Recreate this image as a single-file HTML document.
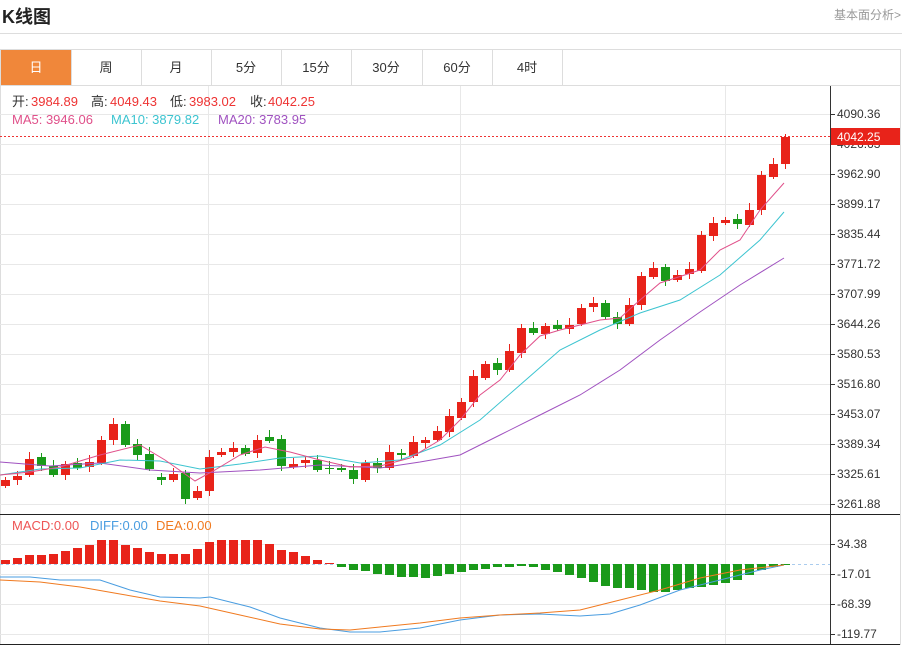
<!DOCTYPE html>
<html><head><meta charset="utf-8"><style>
body{margin:0;width:905px;height:647px;background:#fff;overflow:hidden;font-family:"Liberation Sans","Noto Sans CJK SC",sans-serif;}
.t{position:absolute;white-space:nowrap}
</style></head><body>
<div class="t" style="left:2px;top:3px;font-size:18px;font-weight:bold;color:#222">K线图</div>
<div class="t" style="left:834px;top:6px;font-size:12px;color:#999">基本面分析&gt;</div>
<div style="position:absolute;left:0;top:33px;width:902px;height:1px;background:#ddd"></div>
<svg width="905" height="647" style="position:absolute;left:0;top:0" font-family="Liberation Sans, Noto Sans CJK SC, sans-serif">
<g id="tabs" font-size="13" fill="#333" text-anchor="middle">
<rect x="0.5" y="49.5" width="900" height="595" fill="none" stroke="#ddd"/>
<line x1="0" y1="85.5" x2="900" y2="85.5" stroke="#ddd"/>
<g stroke="#ddd"><line x1="71.5" y1="50" x2="71.5" y2="85"/><line x1="141.5" y1="50" x2="141.5" y2="85"/><line x1="211.5" y1="50" x2="211.5" y2="85"/><line x1="281.5" y1="50" x2="281.5" y2="85"/><line x1="351.5" y1="50" x2="351.5" y2="85"/><line x1="422.5" y1="50" x2="422.5" y2="85"/><line x1="492.5" y1="50" x2="492.5" y2="85"/><line x1="562.5" y1="50" x2="562.5" y2="85"/></g>
<rect x="1" y="50" width="70" height="35" fill="#f0873a"/>
<text x="36" y="72" fill="#fff">日</text>
<text x="106" y="72">周</text><text x="176" y="72">月</text><text x="246" y="72">5分</text>
<text x="316" y="72">15分</text><text x="386" y="72">30分</text><text x="457" y="72">60分</text><text x="527" y="72">4时</text>
</g>
<g id="grid" stroke="#e8e8e8"></g>
<line x1="830.5" y1="86" x2="830.5" y2="645" stroke="#333"/>
<line x1="0" y1="514.5" x2="900" y2="514.5" stroke="#222"/>
<line x1="0" y1="644.5" x2="900" y2="644.5" stroke="#222"/>
<g id="labels" font-size="12" fill="#333"></g>
<line x1="0" y1="136.5" x2="830" y2="136.5" stroke="#e33" stroke-dasharray="2,2"/>
<line x1="0" y1="564.5" x2="830" y2="564.5" stroke="#aaccee" stroke-dasharray="3,3"/>
<g id="candles"></g>
<g id="bars"></g>
<polyline fill="none" stroke="#a052c0" points="0,462 50,466 100,463 150,470 200,473 260,470 320,465 380,468 420,462 460,455 500,435 540,415 580,395 620,370 660,340 700,312 740,285 784,258"/>
<polyline fill="none" stroke="#3cc4d0" points="0,475 40,469 80,468 120,460 160,461 200,469 240,464 280,458 320,456 360,463 400,460 440,445 480,420 520,385 560,350 600,330 640,313 680,300 720,275 760,240 784,212"/>
<polyline fill="none" stroke="#e0508a" points="0,475 30,472 60,467 100,455 140,445 165,460 195,481 215,470 240,455 265,447 290,452 320,460 350,467 380,466 410,458 440,440 460,420 480,395 500,380 520,355 540,336 560,330 580,325 600,320 620,318 640,300 660,283 700,270 720,250 740,240 760,210 784,183"/>
<polyline fill="none" stroke="#4a9de0" points="0,577 30,577 60,580 100,580 130,590 160,597 200,598 210,597 250,607 280,618 320,628 350,632 380,632 420,628 460,620 500,615 540,614 580,616 610,614 640,605 680,590 720,580 760,570 784,565"/>
<polyline fill="none" stroke="#f07a20" points="0,580 40,582 80,587 120,594 160,601 200,606 240,615 280,624 320,629 350,630 380,627 420,623 460,618 500,615 540,613 580,610 620,600 660,590 700,578 740,570 784,565"/>
<rect x="831" y="128" width="69" height="17" fill="#e8231a"/>
<text x="837" y="141" font-size="12" fill="#fff">4042.25</text>
<g font-size="13">
<text x="12" y="106" fill="#333">开:</text><text x="31" y="106" fill="#e33">3984.89</text>
<text x="91" y="106" fill="#333">高:</text><text x="110" y="106" fill="#e33">4049.43</text>
<text x="170" y="106" fill="#333">低:</text><text x="189" y="106" fill="#e33">3983.02</text>
<text x="250" y="106" fill="#333">收:</text><text x="268" y="106" fill="#e33">4042.25</text>
<text x="12" y="124" fill="#e0508a">MA5: 3946.06</text>
<text x="111" y="124" fill="#3cc4d0">MA10: 3879.82</text>
<text x="218" y="124" fill="#a052c0">MA20: 3783.95</text>
<text x="12" y="530" fill="#e55">MACD:0.00</text>
<text x="90" y="530" fill="#4a9de0">DIFF:0.00</text>
<text x="156" y="530" fill="#f07a20">DEA:0.00</text>
</g>
</svg>
<script>
var NS="http://www.w3.org/2000/svg";
function el(p,n,a){var e=document.createElementNS(NS,n);for(var k in a)e.setAttribute(k,a[k]);document.getElementById(p).appendChild(e);return e;}
var pl=["4090.36","4026.63","3962.90","3899.17","3835.44","3771.72","3707.99","3644.26","3580.53","3516.80","3453.07","3389.34","3325.61","3261.88"];
pl.forEach(function(v,i){var y=114+i*30;el("grid","line",{x1:0,x2:830,y1:y+.5,y2:y+.5});el("labels","line",{x1:830,x2:835,y1:y+.5,y2:y+.5,stroke:"#333"});var t=el("labels","text",{x:837,y:y+4});t.textContent=v;});
["34.38","-17.01","-68.39","-119.77"].forEach(function(v,i){var y=544+i*30;el("grid","line",{x1:0,x2:830,y1:y+.5,y2:y+.5});el("labels","line",{x1:830,x2:835,y1:y+.5,y2:y+.5,stroke:"#333"});var t=el("labels","text",{x:837,y:y+4});t.textContent=v;});
[208,460,725].forEach(function(x){el("grid","line",{x1:x+.5,x2:x+.5,y1:86,y2:644});});
var c=[[1,480,486],[1,476,480],[1,459,475],[0,457,466],[0,466,475],[1,464,475],[0,463,468],[1,462,467],[1,440,463],[1,424,440],[0,424,445],[0,444,455],[0,454,469],[0,477,480],[1,474,480],[0,473,499],[1,491,498],[1,457,491],[1,452,455],[1,448,452],[0,448,454],[1,440,453],[0,437,441],[0,439,466],[1,464,467],[1,460,463],[0,460,470],[0,468,469],[0,468,470],[0,470,479],[1,463,480],[0,463,468],[1,452,468],[0,453,455],[1,442,456],[1,440,443],[1,431,440],[1,416,432],[1,402,418],[1,376,402],[1,364,378],[0,363,370],[1,351,370],[1,328,353],[0,328,333],[1,326,334],[0,325,329],[1,325,329],[1,308,324],[1,303,307],[0,303,317],[0,317,324],[1,305,324],[1,276,305],[1,268,277],[0,267,281],[1,275,280],[1,269,274],[1,235,271],[1,223,236],[1,220,223],[0,219,224],[1,210,225],[1,175,210],[1,164,177],[1,137,164]];
c.forEach(function(d,i){var x=5+i*12,col=d[0]?"#e8231a":"#1a9a1a";var w=(i*7)%5;el("candles","line",{x1:x+.5,x2:x+.5,y1:d[1]-3-w,y2:d[2]+2+(i*3)%6,stroke:col});el("candles","rect",{x:x-4,y:d[1],width:9,height:Math.max(1,d[2]-d[1]),fill:col});});
var b=[560,558,555,555,554,551,548,545,540,540,545,548,552,554,554,554,549,542,540,540,540,540,544,550,552,556,560,563,567,570,571,574,575,577,577,578,576,574,572,570,569,567,567,566,567,570,572,575,578,582,586,588,588,590,592,592,590,588,587,585,583,580,575,570,567,565];
b.forEach(function(t,i){var x=5+i*12;if(t<564)el("bars","rect",{x:x-4,y:t,width:9,height:564-t,fill:"#e8231a"});else el("bars","rect",{x:x-4,y:564,width:9,height:t-564,fill:"#1a9a1a"});});
</script>
</body></html>
